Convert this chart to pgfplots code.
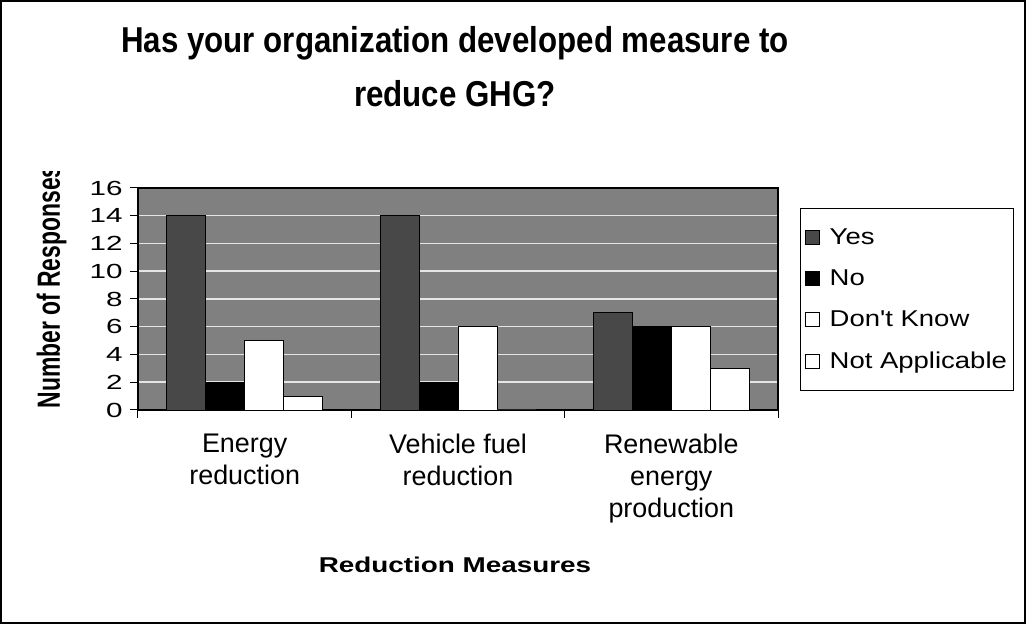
\documentclass[border=0pt]{standalone}
\usepackage{pgfplots}
\pgfplotsset{compat=1.18}
\usepackage{fontspec}
\setmainfont{Liberation Sans}
\newfontfamily\legfont{Liberation Sans}[FakeStretch=1.2]
\newfontfamily\tickfont{Liberation Sans}[FakeStretch=1.45]
\newfontfamily\xlabfont{Liberation Sans}[FakeStretch=1.3]
\definecolor{bg}{RGB}{128,128,128}
\definecolor{yescol}{RGB}{72,72,72}
\pgfplotsset{sqlegend/.style={legend image code/.code={\path[draw=none,fill=none] (0bp,0bp) -- (22bp,0bp);\draw[##1,line width=0.8bp] (0bp,-7bp) rectangle (14bp,7bp);}}}
\pgfplotstableread{
x yes no dk na
0 14 2 5 1
1 14 2 6 0
2 7 6 6 3
}\datatable
\begin{document}
\begin{tikzpicture}[x=1bp,y=1bp]
\useasboundingbox (-138,-214) rectangle (888,410);
\draw[line width=1.5bp] (-137,-213) rectangle (887,409);
\begin{axis}[
  at={(0,0)}, anchor=south west,
  scale only axis, width=640bp, height=222bp,
  xmin=-0.5, xmax=2.5, ymin=0, ymax=16,
  ybar=0pt, bar width=39bp,
  axis background/.style={fill=bg},
  axis line style={black, line width=1.2bp},
  ymajorgrids, grid style={white!80!gray, line width=1.5bp},
  ytick={0,2,...,16},
  xtick={-0.5,0.5,1.5,2.5}, xticklabels={},
  extra x ticks={0,1,2},
  extra x tick labels={Energy\\reduction, Vehicle fuel\\reduction, Renewable\\energy\\production},
  extra x tick style={major tick length=0pt, tick label style={align=center, font=\fontsize{27}{32.5}\selectfont, yshift=-20bp}},
  tick align=outside, tick pos=left,
  major tick length=8bp,
  tick style={black, line width=1bp},
  yticklabel style={font=\tickfont\fontsize{20.5}{24}\selectfont, xshift=-4bp},
  /pgf/number format/assume math mode=true,
  legend style={at={(axis description cs:1.034,0.91)}, anchor=north west, draw=black, line width=1bp,
    font=\legfont\fontsize{23}{25}\selectfont, row sep=20bp, inner xsep=5bp, inner ysep=18bp},
  legend cell align=left,
]
\addplot[fill=yescol, draw=black, line width=0.8bp, sqlegend] table[x=x,y=yes]{\datatable};
\addplot[fill=black, draw=black, line width=0.8bp, sqlegend] table[x=x,y=no]{\datatable};
\addplot[fill=white, draw=black, line width=0.8bp, sqlegend] table[x=x,y=dk]{\datatable};
\addplot[fill=white, draw=black, line width=0.8bp, sqlegend] table[x=x,y=na]{\datatable};
\legend{Yes, No, Don't Know, Not Applicable}
\end{axis}
\node[anchor=base, inner sep=0pt] at (317,357) {\scalebox{1}[1.15]{\bfseries\fontsize{31.4}{34}\selectfont Has your organization developed measure to}};
\node[anchor=base, inner sep=0pt] at (317,303) {\scalebox{1}[1.15]{\bfseries\fontsize{31.4}{34}\selectfont reduce GHG?}};
\node[anchor=base, font=\xlabfont\bfseries\fontsize{21.5}{24}\selectfont] at (317,-163) {Reduction Measures};
\begin{scope}
\clip (-137,-213) rectangle (0,238);
\node[anchor=base west, rotate=90] at (-78,-2) {\scalebox{1}[1.4]{\bfseries\fontsize{23}{26}\selectfont Number of Responses}};
\end{scope}
\end{tikzpicture}
\end{document}
